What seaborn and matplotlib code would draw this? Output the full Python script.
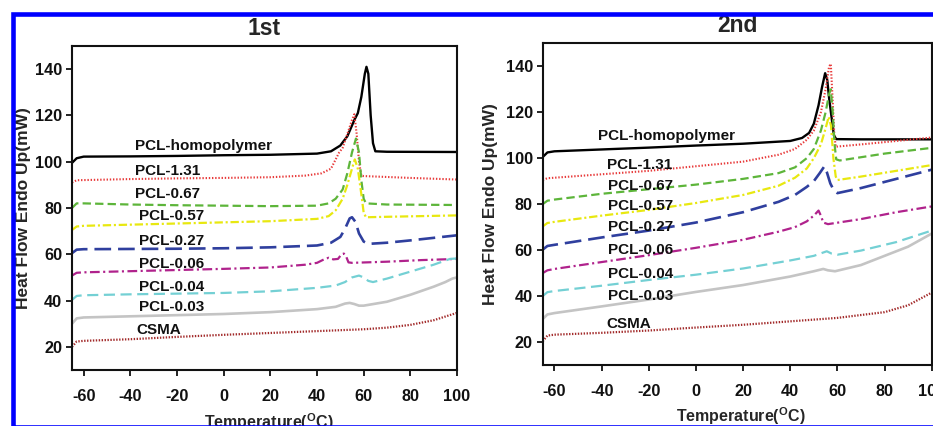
import matplotlib
matplotlib.use("Agg")
import matplotlib.pyplot as plt
import seaborn as sns
import pandas as pd
from matplotlib.patches import Rectangle

# ---------------- data ----------------
SERIES = ["PCL-homopolymer", "PCL-1.31", "PCL-0.67", "PCL-0.57", "PCL-0.27",
          "PCL-0.06", "PCL-0.04", "PCL-0.03", "CSMA"]
PANELS = ["1st", "2nd"]
X_TICKS = [-60, -40, -20, 0, 20, 40, 60, 80, 100]
Y_TICKS = [20, 40, 60, 80, 100, 120, 140]

# ---- 1st heating ----
h1_homo_x = [-65, -63, -60, -40, -20, 0, 20, 40, 46, 50, 53, 56, 57.5, 59, 60.5, 61.2, 62, 63, 64, 65, 70, 100]
h1_homo_y = [99.5, 101.5, 102.2, 102.3, 102.5, 102.8, 103, 103.5, 104.5, 107, 111, 118, 121, 128, 138, 141, 138, 120, 108, 104.5, 104.3, 104.2]
h1_131_x = [-65, -63, -40, -20, 0, 20, 35, 42, 46, 48, 49.5, 51, 53, 55, 56, 57, 58, 59, 60, 80, 100]
h1_131_y = [91, 92, 92.5, 92.8, 93, 93.3, 94, 95, 97, 101, 104, 106, 112, 118, 120.5, 112, 100, 94, 93.8, 93, 92.3]
h1_067_x = [-65, -63, -60, -40, -20, 0, 20, 40, 45, 48, 51, 53, 55, 56.7, 58, 59, 60, 61, 70, 100]
h1_067_y = [80, 82, 82, 81.5, 81.2, 81, 80.8, 81, 82, 84, 88, 95, 104, 110, 104, 92, 84, 82, 81.5, 81.3]
h1_057_x = [-65, -63, -60, -40, -20, 0, 20, 40, 45, 48, 51, 53, 55, 56.2, 57.5, 59, 60, 61, 70, 100]
h1_057_y = [70.5, 72, 72.3, 72.8, 73.3, 73.8, 74.3, 75.3, 76.5, 79, 84, 90, 97, 101, 97, 86, 78, 76, 76.2, 76.8]
h1_027_x = [-65, -63, -60, -40, -20, 0, 20, 40, 46, 50, 52, 54, 55, 56.5, 58, 60, 62, 70, 80, 100]
h1_027_y = [60.5, 62, 62.2, 62.3, 62.4, 62.6, 63, 63.8, 65, 67.5, 71, 75.5, 76, 74, 69, 65.5, 64.5, 65, 66, 68.2]
h1_006_x = [-65, -63, -60, -40, -20, 0, 20, 35, 40, 43, 45, 47, 49, 50.5, 51.5, 52.5, 53.5, 55, 70, 85, 100]
h1_006_y = [50.8, 52, 52.2, 52.7, 53.2, 53.7, 54.3, 55.5, 56.3, 57.8, 58.5, 57.8, 58, 60, 60.3, 59, 56.5, 56.3, 56.8, 57.5, 58]
h1_004_x = [-65, -63, -60, -40, -20, 0, 20, 40, 48, 52, 55, 58, 60, 62, 64, 70, 80, 90, 97, 100]
h1_004_y = [40.3, 42, 42.3, 42.7, 43, 43.3, 44, 45.5, 46.5, 48, 50, 50.8, 50, 48.5, 48, 49.5, 52.5, 55.5, 58, 58.2]
h1_003_x = [-65, -63, -60, -40, -20, 0, 20, 40, 48, 52, 54, 56, 58, 60, 70, 80, 90, 95, 98, 100]
h1_003_y = [30, 32.3, 32.7, 33.2, 33.7, 34.2, 35, 36.3, 37.3, 38.7, 39, 38.5, 37.8, 37.8, 39.5, 42.5, 46, 48, 49.5, 50]
h1_csma_x = [-65, -63, -60, -40, -20, 0, 20, 40, 60, 70, 80, 90, 100]
h1_csma_y = [20, 22.3, 22.6, 23.3, 24.3, 25.2, 26, 26.8, 27.6, 28.3, 29.5, 31.5, 34.7]

# ---- 2nd heating ----
h2_homo_x = [-65, -63, -60, -40, -20, 0, 20, 40, 45, 48, 50, 52, 53.5, 54.8, 55.7, 56.5, 57.5, 58.5, 59.5, 70, 100]
h2_homo_y = [100.5, 102.5, 103, 103.8, 104.6, 105.5, 106.3, 107.5, 108.8, 111, 115, 123, 131, 137, 134, 126, 118, 110, 108.3, 108.2, 108.2]
h2_131_x = [-65, -63, -60, -40, -20, 0, 20, 35, 42, 47, 50, 53, 55, 56.5, 57.2, 58, 58.7, 59.3, 70, 85, 100]
h2_131_y = [90.5, 91.3, 91.5, 93, 94.5, 96.5, 98.5, 101.5, 104, 108, 112, 120, 130, 140, 141, 125, 110, 105, 106, 107.5, 109]
h2_067_x = [-65, -63, -60, -40, -20, 0, 20, 35, 42, 47, 50, 53, 55, 56.5, 57.2, 58, 58.8, 59.5, 61, 80, 100]
h2_067_y = [80, 81.5, 82, 84.5, 86.5, 88.5, 91, 93.5, 96, 100, 104, 112, 120, 128, 130, 120, 106, 99.5, 99, 102, 104.5]
h2_057_x = [-65, -63, -60, -40, -20, 0, 20, 35, 42, 47, 50, 53, 55, 56.3, 57.3, 58.3, 59.3, 60, 70, 85, 100]
h2_057_y = [70.3, 71.8, 72.3, 75, 77.5, 80.5, 84, 88, 91.5, 95.5, 100, 106, 113, 118, 114, 100, 92, 90.5, 92, 94.5, 97]
h2_027_x = [-65, -63, -60, -40, -20, 0, 20, 35, 42, 47, 50, 52.5, 54.5, 55.5, 57, 58.5, 60, 70, 85, 100]
h2_027_y = [60.2, 61.8, 62.3, 65.5, 68.5, 72, 76.5, 81, 84, 87.5, 90, 93.5, 96.5, 94, 89, 86, 84.8, 87, 91, 95]
h2_006_x = [-65, -63, -60, -40, -20, 0, 20, 35, 42, 47, 50, 52, 53, 54, 56, 70, 85, 100]
h2_006_y = [50, 51.2, 51.8, 54.8, 57.8, 61, 64.5, 68, 70, 72.5, 75, 77.2, 75, 72, 71.3, 73.5, 76.5, 79]
h2_004_x = [-65, -63, -60, -40, -20, 0, 20, 40, 50, 55.5, 57.5, 60, 70, 85, 100]
h2_004_y = [40, 41.7, 42.2, 44.5, 47, 49.3, 52, 55.5, 57.5, 59.5, 58.5, 58, 59.8, 63.5, 68.5]
h2_003_x = [-65, -63, -60, -40, -20, 0, 20, 40, 50, 54, 56, 59, 70, 80, 90, 100]
h2_003_y = [30, 32, 32.6, 35.5, 38.5, 41.8, 44.8, 48.5, 50.8, 51.8, 51.2, 50.8, 53.5, 57.5, 61.5, 67.2]
h2_csma_x = [-65, -63, -60, -40, -20, 0, 20, 40, 60, 80, 90, 100]
h2_csma_y = [20.3, 22.8, 23.2, 24, 25, 26.3, 27.5, 29, 30.5, 33, 36, 41.5]

# label anchor positions (data coords, text baseline)
LAB1_X = [-37.9, -37.9, -37.9, -36.5, -36.5, -36.5, -36.5, -36.5, -37.2]
LAB1_Y = [105.1, 94.3, 84.2, 74.8, 64.0, 54.2, 44.1, 35.4, 25.4]
LAB2_X = [-41.6, -37.7, -37.3, -37.3, -37.3, -37.3, -37.3, -37.3, -38.0]
LAB2_Y = [108.1, 95.4, 86.0, 77.3, 68.2, 58.5, 47.9, 38.2, 26.3]

# ---------------- styling ----------------
COLORS = ["#000000", "#e83a3a", "#5db53a", "#e8e810", "#2f3f9e",
          "#b0228c", "#74d0d4", "#c4c4c4", "#a22a2a"]
STYLES = ["-", (0, (1.0, 1.3)), (0, (6, 3)), (0, (6, 2, 1.5, 2)), (0, (12, 5)),
          (0, (7, 2.5, 1.5, 2.5)), (0, (8, 4)), "-", (0, (1.0, 1.1))]
WIDTHS = [1.7, 1.5, 1.6, 1.6, 1.9, 1.6, 1.6, 1.9, 1.6]

first = [(h1_homo_x, h1_homo_y), (h1_131_x, h1_131_y), (h1_067_x, h1_067_y),
         (h1_057_x, h1_057_y), (h1_027_x, h1_027_y), (h1_006_x, h1_006_y),
         (h1_004_x, h1_004_y), (h1_003_x, h1_003_y), (h1_csma_x, h1_csma_y)]
second = [(h2_homo_x, h2_homo_y), (h2_131_x, h2_131_y), (h2_067_x, h2_067_y),
          (h2_057_x, h2_057_y), (h2_027_x, h2_027_y), (h2_006_x, h2_006_y),
          (h2_004_x, h2_004_y), (h2_003_x, h2_003_y), (h2_csma_x, h2_csma_y)]

rows = []
for panel, data in zip(PANELS, [first, second]):
    for name, (xs, ys) in zip(SERIES, data):
        for xv, yv in zip(xs, ys):
            rows.append({"panel": panel, "series": name, "T": xv, "HF": yv})
df = pd.DataFrame(rows)

sns.set_theme(style="ticks")
plt.rcParams["font.family"] = ["Liberation Sans", "DejaVu Sans"]
plt.rcParams["axes.unicode_minus"] = False
plt.rcParams["lines.scale_dashes"] = False
plt.rcParams["mathtext.fontset"] = "custom"
plt.rcParams["mathtext.rm"] = "Liberation Sans:bold"
plt.rcParams["mathtext.bf"] = "Liberation Sans:bold"

fig = plt.figure(figsize=(9.33, 4.26), dpi=100)
W, H = 933.0, 426.0
ax1 = fig.add_axes([72 / W, 1 - 370 / H, (457 - 72) / W, (370 - 46) / H])
ax2 = fig.add_axes([542.7 / W, 1 - 365 / H, (931.7 - 542.7) / W, (365 - 43.3) / H])

for ax, panel, lx, ly, ylx, xly in [(ax1, "1st", LAB1_X, LAB1_Y, -0.126, -0.127),
                                    (ax2, "2nd", LAB2_X, LAB2_Y, -0.134, -0.124)]:
    sub = df[df["panel"] == panel]
    for i, name in enumerate(SERIES):
        s = sub[sub["series"] == name]
        sns.lineplot(data=s, x="T", y="HF", ax=ax, color=COLORS[i],
                     linewidth=WIDTHS[i], linestyle=STYLES[i],
                     estimator=None, sort=False, legend=False)
    for i, name in enumerate(SERIES):
        ax.text(lx[i], ly[i], name, fontsize=11, fontweight="bold",
                ha="left", va="baseline", color="#111111", zorder=5)
    ax.set_xlim(-65, 100)
    ax.set_ylim(10, 150)
    ax.set_xticks(X_TICKS)
    ax.set_yticks(Y_TICKS)
    ax.set_xticklabels([str(v) for v in X_TICKS])
    ax.set_yticklabels([str(v) for v in Y_TICKS])
    ax.tick_params(axis="x", direction="out", length=4, width=1.3, pad=10,
                   labelsize=11.7, colors="#111111")
    ax.tick_params(axis="y", direction="out", length=4, width=1.3, pad=3,
                   labelsize=11.7, colors="#111111")
    for lab in ax.get_xticklabels() + ax.get_yticklabels():
        lab.set_fontweight("bold")
    for sp in ax.spines.values():
        sp.set_visible(True)
        sp.set_linewidth(1.5)
        sp.set_color("#111111")
    ax.set_title(panel, fontsize=16.5, fontweight="bold", pad=8)
    ax.set_xlabel(r"Temperature($\mathrm{^{O}}$C)", fontsize=11.5,
                  fontweight="bold")
    ax.xaxis.set_label_coords(0.51, xly)
    ax.set_ylabel("Heat Flow Endo Up(mW)", fontsize=12.5, fontweight="bold",
                  va="center")
    ax.yaxis.set_label_coords(ylx, 0.5)

# blue frame around the figure
frame = Rectangle((12.5 / W, 1 - 426.5 / H), 1.2, (426.5 - 14.2) / H,
                  transform=fig.transFigure, fill=False, edgecolor="#0000ff",
                  linewidth=3.3, zorder=20, clip_on=False)
fig.patches.append(frame)

fig.savefig("out.png", dpi=100)
